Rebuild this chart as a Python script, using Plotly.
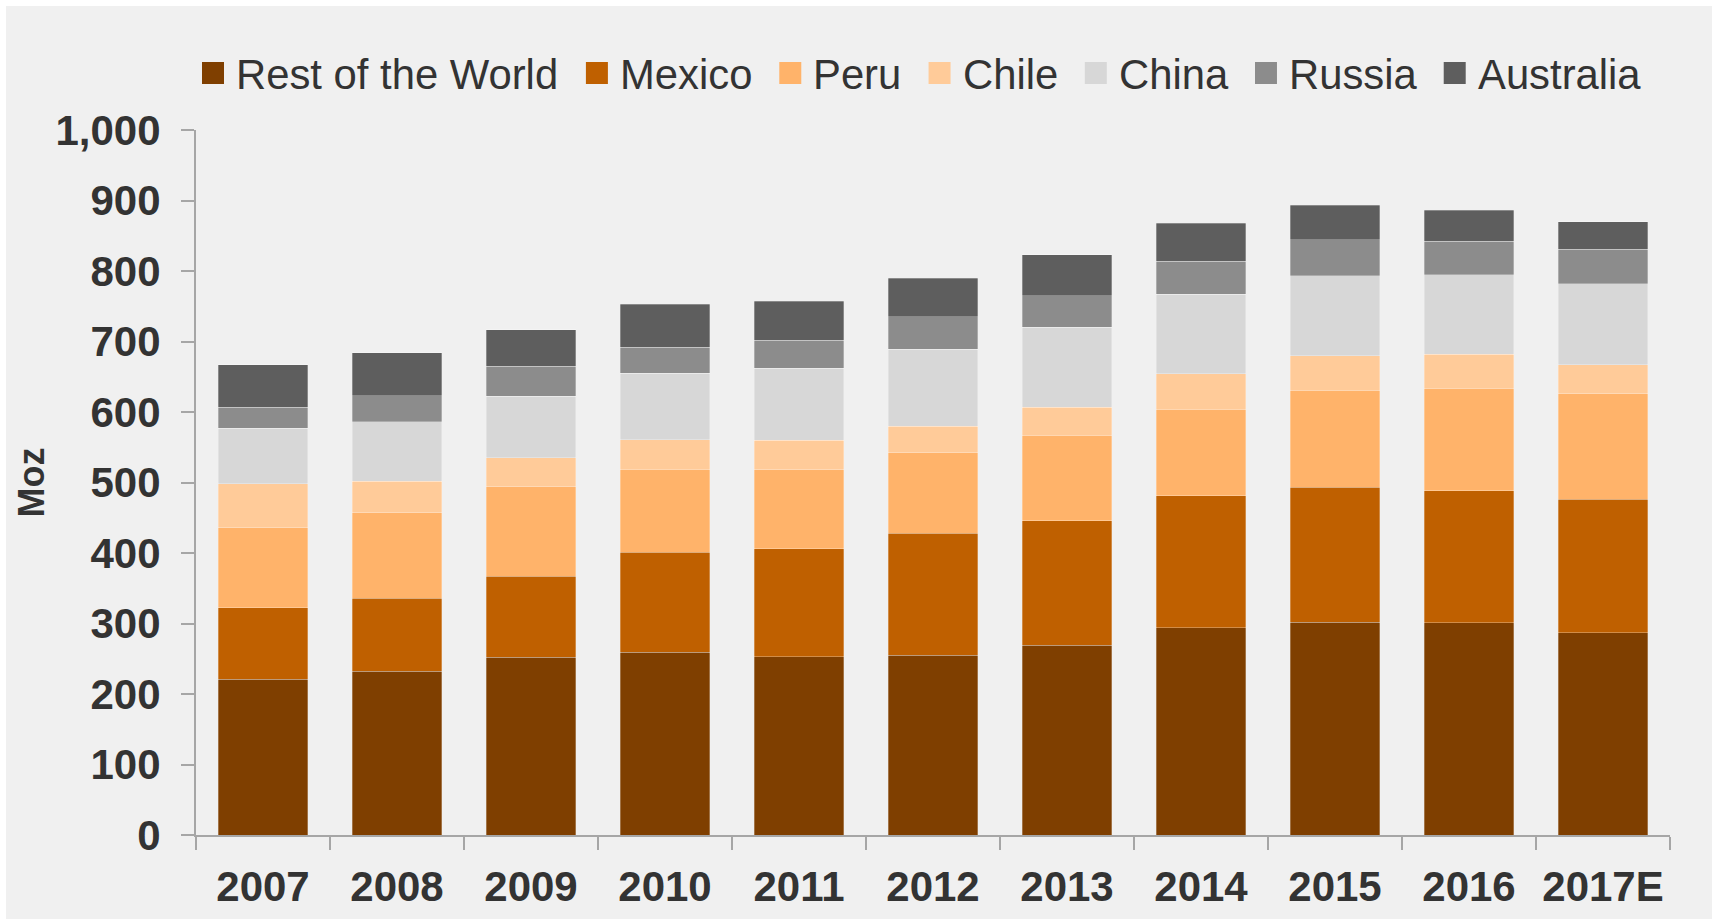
import plotly.graph_objects as go

# Silver supply by country, million ounces (Moz)
years = ["2007", "2008", "2009", "2010", "2011", "2012", "2013", "2014", "2015", "2016", "2017E"]

rest_of_world = [221, 232, 252, 259, 253, 255, 269, 294, 302, 301, 287]
mexico = [101, 104, 115, 142, 153, 173, 177, 187, 191, 187, 189]
peru = [114, 121, 127, 118, 112, 114, 121, 123, 138, 146, 150]
chile = [62, 45, 41, 42, 42, 38, 40, 50, 49, 48, 41]
china = [79, 84, 87, 94, 102, 109, 113, 113, 113, 113, 115]
russia = [30, 37, 43, 37, 40, 46, 45, 47, 51, 47, 49]
australia = [60, 61, 52, 61, 55, 55, 58, 54, 49, 44, 39]

series = [
    ("Rest of the World", rest_of_world, "#7f3f00"),
    ("Mexico", mexico, "#bf6000"),
    ("Peru", peru, "#ffb36a"),
    ("Chile", chile, "#ffcb99"),
    ("China", china, "#d7d7d7"),
    ("Russia", russia, "#8c8c8c"),
    ("Australia", australia, "#5e5e5e"),
]

W, H = 1717, 924
L, R, T, B = 196, 47, 130, 89
PW, PH = W - L - R, H - T - B

FONT = "Liberation Sans, Arial, sans-serif"
TXT = "#333333"
AXIS = "#a6a6a6"

fig = go.Figure()
for name, vals, color in series:
    fig.add_trace(go.Bar(
        x=years, y=vals, name=name, showlegend=False,
        marker=dict(color=color, line=dict(color="rgba(255,255,255,0.35)", width=0.8)),
    ))


def px_x(p):
    return (p - L) / PW


def px_y(p):
    return (H - B - p) / PH


# Legend row: square swatch followed by its label, laid out left to right
# using Arial/Liberation Sans advance widths (per 1000 em).
ADV = {" ": 278, "R": 722, "e": 556, "s": 500, "t": 278, "o": 556, "f": 278, "h": 556,
       "W": 944, "r": 333, "l": 222, "d": 556, "M": 833, "x": 500, "i": 222, "c": 500,
       "P": 667, "u": 556, "C": 722, "n": 556, "a": 556, "A": 667}
LEG_SIZE = 41.8
SW = 22          # swatch side
SW_TXT = 10      # gap swatch -> label
ITEM_GAP = 29    # gap label -> next swatch
LEG_CY = 73

shapes = [dict(
    type="rect", xref="paper", yref="paper", layer="below",
    x0=px_x(6), x1=px_x(1712), y0=px_y(919), y1=px_y(6),
    fillcolor="#f0f0f0", line=dict(width=0),
)]
annotations = []
cx = 202
for name, _, color in series:
    shapes.append(dict(
        type="rect", xref="paper", yref="paper",
        x0=px_x(cx), x1=px_x(cx + SW), y0=px_y(LEG_CY + SW / 2), y1=px_y(LEG_CY - SW / 2),
        fillcolor=color, line=dict(width=0),
    ))
    tx = cx + SW + SW_TXT
    annotations.append(dict(
        text=name, xref="paper", yref="paper", x=px_x(tx), y=px_y(LEG_CY + 1),
        xanchor="left", yanchor="middle", showarrow=False,
        font=dict(family=FONT, size=LEG_SIZE, color=TXT),
    ))
    cx = tx + sum(ADV[ch] for ch in name) / 1000 * LEG_SIZE + ITEM_GAP

fig.update_layout(
    width=W, height=H,
    margin=dict(l=L, r=R, t=T, b=B, pad=0),
    barmode="stack",
    bargap=0.335,
    paper_bgcolor="white",
    plot_bgcolor="rgba(0,0,0,0)",
    font=dict(family=FONT, color=TXT),
    showlegend=False,
    shapes=shapes,
    annotations=annotations,
    xaxis=dict(
        type="category",
        showline=True, linecolor=AXIS, linewidth=2,
        ticks="outside", tickson="boundaries", ticklen=13, tickcolor=AXIS, tickwidth=1.5,
        tickfont=dict(family=FONT, size=42, color=TXT, weight="bold"),
        ticklabelstandoff=14,
        showgrid=False, zeroline=False,
    ),
    yaxis=dict(
        range=[0, 1000], dtick=100, tickformat=",d",
        showline=True, linecolor=AXIS, linewidth=2,
        ticks="outside", ticklen=13, tickcolor=AXIS, tickwidth=1.5,
        tickfont=dict(family=FONT, size=42, color=TXT, weight="bold"),
        ticklabelstandoff=12,
        showgrid=False, zeroline=False,
        title=dict(text="Moz", font=dict(family=FONT, size=36, color=TXT, weight="bold"), standoff=0),
    ),
)

fig.write_html("out.html")
